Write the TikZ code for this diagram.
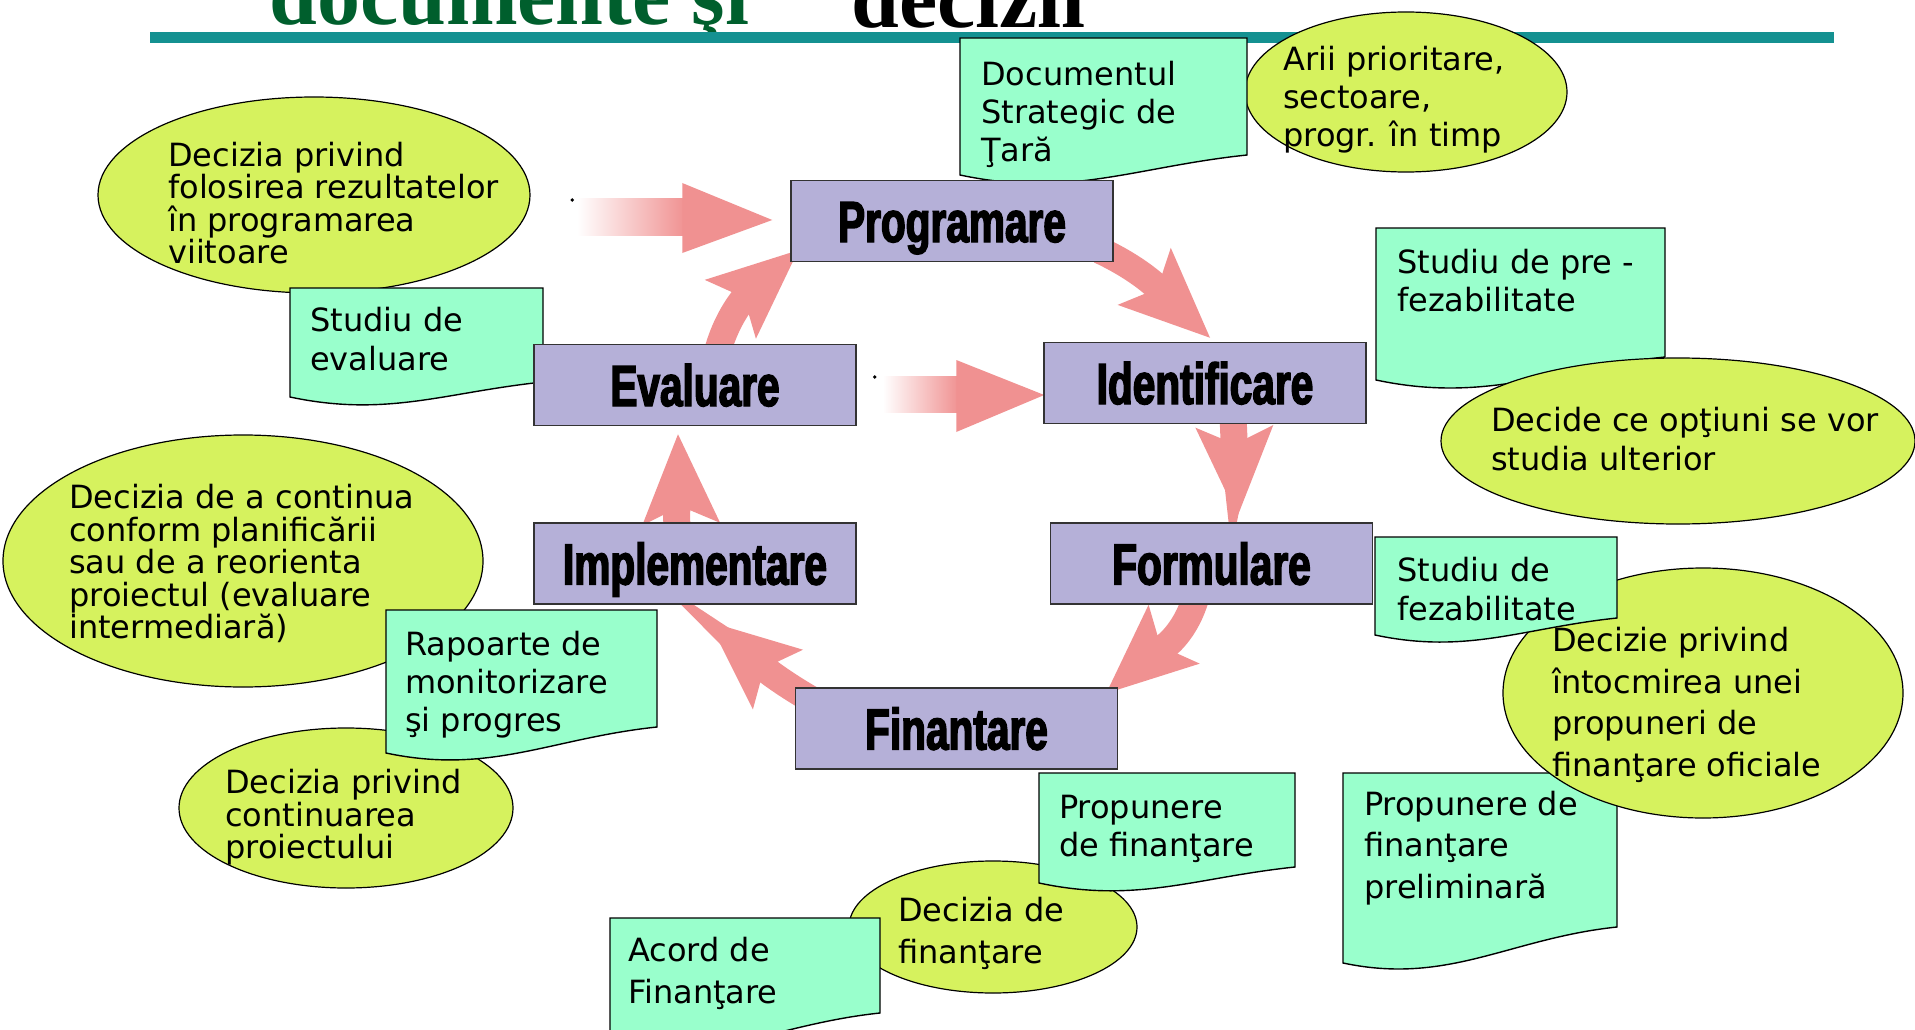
\documentclass[tikz,border=0pt]{standalone}
\usepackage{fontspec}
\setmainfont{DejaVu Sans}
\newfontfamily\stagefont{Liberation Sans}[FakeStretch=0.7,FakeBold=2.5]
\newfontfamily\titlefont{Liberation Serif}
\usetikzlibrary{shapes, positioning, arrows.meta, backgrounds}

\definecolor{stagefill}{RGB}{181,176,216}
\definecolor{docfill}{RGB}{153,255,204}
\definecolor{decfill}{RGB}{214,242,94}
\definecolor{cyclepink}{RGB}{240,145,145}
\definecolor{barteal}{RGB}{20,145,145}
\definecolor{titlegreen}{RGB}{0,95,45}

% sheet with wavy lower edge: corner, width, left height, right height
\newcommand{\docsheet}[4]{%
  \filldraw[docline] #1 -- ++(#2,0) -- ++(0,-#4) to[out=186,in=-12] ++(-#2,#4-#3) -- cycle;}

\begin{document}
\begin{tikzpicture}[
    x=1pt, y=1pt,
    stage/.style={
        draw=black!80, line width=1.5pt, fill=stagefill,
        minimum width=322pt, minimum height=81pt, inner sep=0pt,
        text height=42pt, text depth=0pt,
        font=\stagefont\bfseries\fontsize{58}{60}\selectfont
    },
    dec/.style={ellipse, draw, line width=1.2pt, fill=decfill, inner sep=0pt},
    docline/.style={draw, line width=1.4pt, fill=docfill},
    note/.style={anchor=north west, inner sep=0pt, align=left},
    tight/.style={font=\fontsize{32}{32.5}\selectfont},
    loose/.style={font=\fontsize{32}{38.3}\selectfont},
    wide/.style={font=\fontsize{32}{41.5}\selectfont},
    cyclearrow/.style={draw=cyclepink, line width=27pt,
        -{Stealth[length=90pt, width=78pt, inset=18pt, line width=0pt]}},
    fadeshaft/.style={left color=white, right color=cyclepink}
]

\path[use as bounding box] (0,0) rectangle (1915,-1030);
\clip (0,0) rectangle (1915,-1030);

\node[anchor=base west, inner sep=0pt, text=titlegreen,
      font=\titlefont\bfseries\fontsize{86}{90}\selectfont] (titleA) at (269,-25) {documente şi};
\node[anchor=base west, inner sep=0pt,
      font=\titlefont\bfseries\fontsize{86}{90}\selectfont] (titleB) at (851,-28) {decizii};
\fill[barteal] (150,-32) rectangle (1834,-43);

% decisions and documents
\node[dec, minimum width=432pt, minimum height=196pt] (useDec) at (314,-195) {};
\node[note, tight] (useText) at (168,-141.7) {Decizia privind\\folosirea rezultatelor\\în programarea\\viitoare};
\docsheet{(290,-288)}{253}{109}{94}
\node[note, loose] (evalDoc) at (310,-307.4) {Studiu de\\evaluare};

\node[dec, minimum width=322pt, minimum height=160pt] (areasDec) at (1406,-92) {};
\node[note, loose] (areasText) at (1283,-45.7) {Arii prioritare,\\sectoare,\\progr. în timp};
\docsheet{(960,-38)}{287}{137}{117}
\node[note, loose] (dscDoc) at (981,-60.7) {Documentul\\Strategic de\\Ţară};

\docsheet{(1376,-228)}{289}{152}{129}
\node[note, loose] (preDoc) at (1397,-249) {Studiu de pre -\\fezabilitate};
\node[dec, minimum width=474pt, minimum height=166pt] (optDec) at (1678,-441) {};
\node[note, loose] (optText) at (1491,-407.4) {Decide ce opţiuni se vor\\studia ulterior};

\node[dec, minimum width=480pt, minimum height=252pt] (contDec) at (243,-561) {};
\node[note, tight] (contText) at (69,-484) {Decizia de a continua\\conform planificării\\sau de a reorienta\\proiectul (evaluare\\intermediară)};
\node[dec, minimum width=334pt, minimum height=160pt] (projDec) at (346,-808) {};
\node[note, tight] (projText) at (225,-769) {Decizia privind\\continuarea\\proiectului};
\docsheet{(386,-610)}{271}{143}{117}
\node[note, loose] (monDoc) at (405,-630.7) {Rapoarte de\\monitorizare\\şi progres};

\docsheet{(1343,-773)}{274}{190}{154}
\node[note, wide] (prelimDoc) at (1364,-790.7) {Propunere de\\finanţare\\preliminară};
\node[dec, minimum width=400pt, minimum height=250pt] (propDec) at (1703,-693) {};
\node[note, wide] (propText) at (1552,-627.4) {Decizie privind\\întocmirea unei\\propuneri de\\finanţare oficiale};
\docsheet{(1375,-537)}{242}{98}{81}
\node[note, loose] (fezDoc) at (1397,-557.4) {Studiu de\\fezabilitate};

\node[dec, minimum width=288pt, minimum height=132pt] (finDec) at (993,-927) {};
\node[note, wide] (finText) at (898,-897.4) {Decizia de\\finanţare};
\docsheet{(1039,-773)}{256}{110}{94}
\node[note, loose] (propDoc) at (1059,-795) {Propunere\\de finanţare};
\docsheet{(610,-918)}{270}{125}{95}
\node[note, wide] (acordDoc) at (628,-937.4) {Acord de\\Finanţare};

% project cycle
\node[stage] (prog) at (952,-221) {Programare};
\node[stage] (ident) at (1205,-383) {Identificare};
\node[stage] (form) at (1211.5,-563.5) {Formulare};
\node[stage] (fin) at (956.5,-728.5) {Finantare};
\node[stage] (impl) at (695,-563.5) {Implementare};
\node[stage] (eval) at (695,-385) {Evaluare};

\begin{scope}[on background layer]
\fill[white] (0,0) rectangle (1915,-1030);
\draw[cyclearrow] ([xshift=20pt,yshift=-18pt]eval.north) to[out=78,in=221] ([xshift=8pt,yshift=12pt]prog.south west);
\draw[cyclearrow] ([xshift=-14pt,yshift=12pt]prog.south east) to[out=-25,in=137] ([xshift=5pt,yshift=4pt]ident.north);
\draw[cyclearrow] ([xshift=28pt,yshift=10pt]ident.south) to[out=-88,in=92] ([xshift=26pt,yshift=6pt]form.north);
\draw[cyclearrow] ([xshift=-15pt,yshift=10pt]form.south) to[out=-105,in=41] ([xshift=-12pt,yshift=-6pt]fin.north east);
\draw[cyclearrow] ([xshift=16pt,yshift=-12pt]fin.north west) to[out=150,in=-40] ([xshift=14pt,yshift=-17pt]impl.south);
\draw[cyclearrow] ([xshift=-18pt,yshift=-10pt]impl.north) to[out=92,in=-88] ([xshift=-17pt,yshift=-8pt]eval.south);

\shade[fadeshaft] ([xshift=-213pt,yshift=23pt]prog.west) rectangle ([xshift=-104pt,yshift=-14pt]prog.west);
\fill[cyclepink] ([xshift=-108pt,yshift=38pt]prog.west) -- ([xshift=-18pt,yshift=1pt]prog.west) -- ([xshift=-108pt,yshift=-32pt]prog.west) -- cycle;
\fill ([xshift=-218pt,yshift=21pt]prog.west) circle (1.8pt);

\shade[fadeshaft] ([xshift=26pt,yshift=9pt]eval.east) rectangle ([xshift=-84pt,yshift=-29pt]ident.west);
\fill[cyclepink] ([xshift=-87pt,yshift=23pt]ident.west) -- ([xshift=1pt,yshift=-12pt]ident.west) -- ([xshift=-87pt,yshift=-49pt]ident.west) -- cycle;
\fill ([xshift=18pt,yshift=8pt]eval.east) circle (1.8pt);
\end{scope}

\end{tikzpicture}
\end{document}
